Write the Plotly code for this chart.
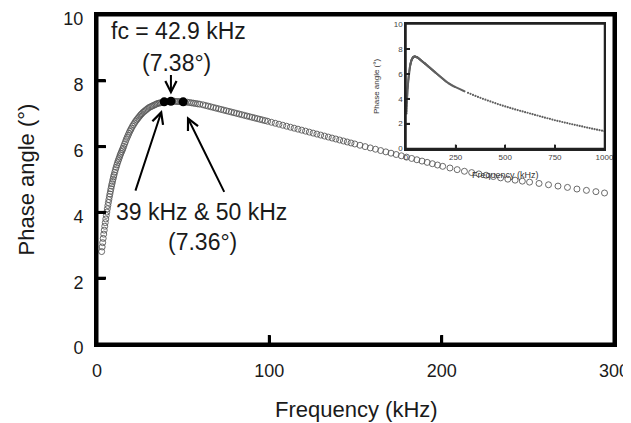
import plotly.graph_objects as go

# ---------------- data ----------------
freq_khz = [
    2.7, 3.0, 3.3, 3.6, 3.9, 4.2, 4.5, 4.8, 5.1, 5.4,
    5.7, 6.0, 6.3, 6.6, 6.9, 7.2, 7.5, 7.8, 8.1, 8.4,
    8.7, 9.0, 9.3, 9.6, 9.9, 10.3, 10.7, 11.1, 11.5, 11.9,
    12.3, 12.7, 13.1, 13.5, 13.9, 14.3, 14.7, 15.1, 15.5, 16.0,
    16.5, 17.0, 17.5, 18.0, 18.5, 19.0, 19.5, 20.0, 20.6, 21.2,
    21.8, 22.4, 23.0, 23.6, 24.2, 24.8, 25.4, 26.0, 26.7, 27.4,
    28.1, 28.8, 29.5, 30.3, 31.1, 31.9, 32.7, 33.5, 34.3, 35.1,
    35.9, 36.7, 37.5, 38.3, 39.0, 40.0, 41.0, 42.0, 42.9, 44.0,
    45.0, 46.0, 47.0, 48.0, 49.0, 50.0, 51.2, 52.4, 53.6, 54.8,
    56.0, 57.2, 58.4, 59.6, 61.5, 63.0, 64.5, 66.0, 67.5, 69.0,
    70.5, 72.0, 73.5, 75.0, 76.5, 78.0, 79.5, 81.0, 82.5, 84.0,
    85.5, 87.0, 88.5, 90.0, 91.5, 93.0, 94.5, 96.0, 97.5, 99.0,
    101.2, 103.4, 105.6, 107.8, 110.0, 112.2, 114.4, 116.6, 118.8, 121.0,
    123.2, 125.4, 127.6, 129.8, 132.0, 134.2, 136.4, 138.6, 140.8, 143.0,
    145.2, 147.4, 149.6, 152.6, 155.6, 158.6, 161.6, 164.6, 167.6, 170.6,
    173.6, 176.6, 179.6, 182.6, 185.6, 188.6, 191.6, 194.6, 197.6, 200.6,
    204.8, 209.0, 213.2, 217.4, 221.6, 225.8, 230.0, 234.2, 238.4, 242.6,
    246.8, 251.0, 256.5, 262.0, 267.5, 273.0, 278.5, 284.0, 289.5, 294.5,
]
phase_deg = [
    2.81, 2.95, 3.08, 3.21, 3.34, 3.46, 3.58, 3.69, 3.80, 3.91,
    4.01, 4.11, 4.21, 4.30, 4.39, 4.48, 4.56, 4.64, 4.72, 4.80,
    4.87, 4.94, 5.01, 5.08, 5.14, 5.22, 5.30, 5.37, 5.44, 5.51,
    5.57, 5.63, 5.69, 5.75, 5.80, 5.85, 5.90, 5.95, 6.01, 6.08,
    6.15, 6.22, 6.28, 6.34, 6.40, 6.46, 6.51, 6.56, 6.62, 6.67,
    6.72, 6.77, 6.81, 6.85, 6.89, 6.93, 6.97, 7.00, 7.04, 7.07,
    7.10, 7.13, 7.16, 7.19, 7.21, 7.23, 7.25, 7.27, 7.29, 7.31,
    7.32, 7.33, 7.34, 7.35, 7.36, 7.37, 7.37, 7.38, 7.38, 7.38,
    7.38, 7.37, 7.37, 7.37, 7.36, 7.36, 7.35, 7.35, 7.34, 7.33,
    7.32, 7.31, 7.30, 7.29, 7.27, 7.25, 7.23, 7.21, 7.19, 7.17,
    7.15, 7.13, 7.11, 7.09, 7.07, 7.05, 7.03, 7.01, 6.99, 6.97,
    6.95, 6.93, 6.91, 6.89, 6.87, 6.85, 6.83, 6.81, 6.79, 6.77,
    6.74, 6.71, 6.68, 6.65, 6.62, 6.59, 6.56, 6.53, 6.50, 6.47,
    6.44, 6.41, 6.38, 6.35, 6.32, 6.29, 6.26, 6.23, 6.20, 6.17,
    6.14, 6.11, 6.08, 6.04, 6.00, 5.96, 5.92, 5.88, 5.84, 5.80,
    5.76, 5.72, 5.68, 5.64, 5.60, 5.56, 5.52, 5.48, 5.44, 5.40,
    5.35, 5.30, 5.25, 5.21, 5.17, 5.13, 5.09, 5.05, 5.01, 4.98,
    4.95, 4.92, 4.88, 4.84, 4.80, 4.76, 4.71, 4.67, 4.63, 4.59,
]

# highlighted points (39 kHz, fc = 42.9 kHz, 50 kHz)
hl_freq = [39.0, 42.9, 50.0]
hl_phase = [7.36, 7.38, 7.36]

# inset: extension of the measurement up to 1000 kHz
ext_freq_khz = [
    312.5, 325, 337.5, 350, 362.5, 375, 387.5, 400,
    412.5, 425, 437.5, 450, 462.5, 475, 487.5, 500,
    512.5, 525, 537.5, 550, 562.5, 575, 587.5, 600,
    612.5, 625, 637.5, 650, 662.5, 675, 687.5, 700,
    712.5, 725, 737.5, 750, 762.5, 775, 787.5, 800,
    812.5, 825, 837.5, 850, 862.5, 875, 887.5, 900,
    912.5, 925, 937.5, 950, 962.5, 975, 987.5, 1000,
]
ext_phase_deg = [
    4.47, 4.39, 4.30, 4.22, 4.14, 4.07, 3.99, 3.92,
    3.85, 3.78, 3.71, 3.64, 3.57, 3.51, 3.44, 3.38,
    3.32, 3.26, 3.20, 3.14, 3.09, 3.03, 2.98, 2.92,
    2.87, 2.81, 2.76, 2.70, 2.65, 2.59, 2.54, 2.48,
    2.43, 2.38, 2.32, 2.27, 2.22, 2.18, 2.13, 2.08,
    2.04, 1.99, 1.95, 1.90, 1.86, 1.81, 1.77, 1.72,
    1.68, 1.64, 1.59, 1.55, 1.51, 1.47, 1.43, 1.39,
]

x_ticks = [0, 100, 200, 300]
y_ticks = [0, 2, 4, 6, 8, 10]
inset_x_ticks = [0, 250, 500, 750, 1000]
inset_y_ticks = [0, 2, 4, 6, 8, 10]

FONT = "Liberation Sans, Arial, Helvetica, sans-serif"
TXT = "#1a1a1a"

# figure geometry (page body has an 8 px margin: figure is 623x415, placed at (8, 8))
FIG_W, FIG_H = 623, 415
M_L, M_R, M_T, M_B = 89, 17, 7, 79
PLOT_W = FIG_W - M_L - M_R
PLOT_H = FIG_H - M_T - M_B
X_RANGE, Y_RANGE = [0, 300], [0, 10]
IX_RANGE, IY_RANGE = [0, 1000], [0, 10]
IX_DOM, IY_DOM = [0.5977, 0.9816], [0.5942, 0.9726]
TICK_LEN, TICK_W = 9, 3        # main tick length / width in px
ITICK_LEN, ITICK_W = 4, 1.5    # inset tick length / width in px

fig = go.Figure()

fig.add_trace(go.Scatter(
    x=freq_khz, y=phase_deg, mode="markers",
    marker=dict(symbol="circle-open", size=6, color="#5a5a5a", line=dict(width=0.9)),
    xaxis="x", yaxis="y", showlegend=False, hoverinfo="skip"))

fig.add_trace(go.Scatter(
    x=hl_freq, y=hl_phase, mode="markers",
    marker=dict(symbol="circle", size=9, color="black"),
    xaxis="x", yaxis="y", showlegend=False, hoverinfo="skip"))

fig.add_trace(go.Scatter(
    x=freq_khz + ext_freq_khz, y=phase_deg + ext_phase_deg, mode="markers",
    marker=dict(symbol="circle", size=2.2, color="#606060"),
    xaxis="x2", yaxis="y2", showlegend=False, hoverinfo="skip"))

main_axis = dict(showline=True, linewidth=3, linecolor="black", mirror=True,
                 ticks="inside", ticklen=8, tickwidth=3, tickcolor="black",
                 showgrid=False, zeroline=False, automargin=False,
                 ticklabeloverflow="allow",
                 tickfont=dict(family=FONT, size=18, color=TXT))
inset_axis = dict(showline=True, linewidth=1.5, linecolor="#222", mirror=True,
                  ticks="inside", ticklen=4, tickwidth=1.5, tickcolor="#222",
                  showgrid=False, zeroline=False, automargin=False,
                  ticklabeloverflow="allow",
                  tickfont=dict(family=FONT, size=8, color="#444"))

fig.update_layout(
    template="none",
    width=FIG_W, height=FIG_H,
    margin=dict(l=M_L, r=M_R, t=M_T, b=M_B),
    paper_bgcolor="white", plot_bgcolor="white",
    font=dict(family=FONT, color=TXT),
    xaxis=dict(main_axis, range=X_RANGE, tickvals=x_ticks, domain=[0, 1],
               ticklabelstandoff=8),
    yaxis=dict(main_axis, range=Y_RANGE, tickvals=y_ticks, domain=[0, 1],
               ticklabelstandoff=7, ticklabelshift=4),
    xaxis2=dict(inset_axis, range=IX_RANGE, tickvals=inset_x_ticks, anchor="y2",
                domain=IX_DOM),
    yaxis2=dict(inset_axis, range=IY_RANGE, tickvals=inset_y_ticks, anchor="x2",
                domain=IY_DOM),
)

# frame and tick marks as shapes in axis-domain units (positions from the tick arrays)
def dom(v, rng):
    return (v - rng[0]) / (rng[1] - rng[0])

fig.add_shape(type="rect", xref="x domain", yref="y domain", x0=0, x1=1, y0=0, y1=1,
              line=dict(color="black", width=3))
for v in x_ticks[1:-1]:
    d = dom(v, X_RANGE)
    fig.add_shape(type="rect", xref="x domain", yref="y domain",
                  x0=d - TICK_W / 2 / PLOT_W, x1=d + TICK_W / 2 / PLOT_W,
                  y0=0, y1=TICK_LEN / PLOT_H,
                  fillcolor="black", line=dict(width=0))
for v in y_ticks[1:-1]:
    d = dom(v, Y_RANGE)
    fig.add_shape(type="rect", xref="x domain", yref="y domain",
                  y0=d - TICK_W / 2 / PLOT_H, y1=d + TICK_W / 2 / PLOT_H,
                  x0=0, x1=TICK_LEN / PLOT_W,
                  fillcolor="black", line=dict(width=0))

IW = PLOT_W * (IX_DOM[1] - IX_DOM[0])
IH = PLOT_H * (IY_DOM[1] - IY_DOM[0])
fig.add_shape(type="rect", xref="x2 domain", yref="y2 domain", x0=0, x1=1, y0=0, y1=1,
              line=dict(color="#222", width=1.5))
for v in inset_x_ticks[1:-1]:
    d = dom(v, IX_RANGE)
    fig.add_shape(type="rect", xref="x2 domain", yref="y2 domain",
                  x0=d - ITICK_W / 2 / IW, x1=d + ITICK_W / 2 / IW,
                  y0=0, y1=ITICK_LEN / IH,
                  fillcolor="#222", line=dict(width=0))
for v in inset_y_ticks[1:-1]:
    d = dom(v, IY_RANGE)
    fig.add_shape(type="rect", xref="x2 domain", yref="y2 domain",
                  y0=d - ITICK_W / 2 / IH, y1=d + ITICK_W / 2 / IH,
                  x0=0, x1=ITICK_LEN / IW,
                  fillcolor="#222", line=dict(width=0))

# axis titles
fig.add_annotation(x=0.501, y=-0.2006, xref="paper", yref="paper", text="Frequency (kHz)",
                   showarrow=False, xanchor="center", yanchor="middle",
                   font=dict(family=FONT, size=22, color=TXT))
fig.add_annotation(x=-0.1354, y=0.5, xref="paper", yref="paper", text="Phase angle (°)",
                   showarrow=False, xanchor="center", yanchor="middle", textangle=-90,
                   font=dict(family=FONT, size=22, color=TXT))
fig.add_annotation(x=0.790, y=0.5137, xref="paper", yref="paper", text="Frequency (kHz)",
                   showarrow=False, xanchor="center", yanchor="middle",
                   font=dict(family=FONT, size=9, color="#333"))
fig.add_annotation(x=0.5397, y=0.784, xref="paper", yref="paper", text="Phase angle (°)",
                   showarrow=False, xanchor="center", yanchor="middle", textangle=-90,
                   font=dict(family=FONT, size=8, color="#333"))

ann_font = dict(family=FONT, size=23, color=TXT)
arrow = dict(showarrow=True, arrowhead=5, arrowsize=1.1, arrowwidth=2, arrowcolor="black",
             text="", xref="x", yref="y", axref="pixel", ayref="pixel")

fig.add_annotation(x=7.0, y=9.5, xref="x", yref="y", text="fc = 42.9 kHz",
                   showarrow=False, xanchor="left", yanchor="middle", font=ann_font)
fig.add_annotation(x=46.4, y=8.53, xref="x", yref="y", text="(7.38°)",
                   showarrow=False, xanchor="center", yanchor="middle", font=ann_font)
fig.add_annotation(x=42.9, y=7.58, ax=0, ay=-21, **arrow)
fig.add_annotation(x=37.7, y=7.11, ax=-27, ay=82, **arrow)
fig.add_annotation(x=52.2, y=6.92, ax=38, ay=77, **arrow)
fig.add_annotation(x=60.9, y=4.02, xref="x", yref="y", text="39 kHz &amp; 50 kHz",
                   showarrow=False, xanchor="center", yanchor="middle", font=ann_font)
fig.add_annotation(x=61.5, y=3.11, xref="x", yref="y", text="(7.36°)",
                   showarrow=False, xanchor="center", yanchor="middle", font=ann_font)

fig.write_html("out.html")
